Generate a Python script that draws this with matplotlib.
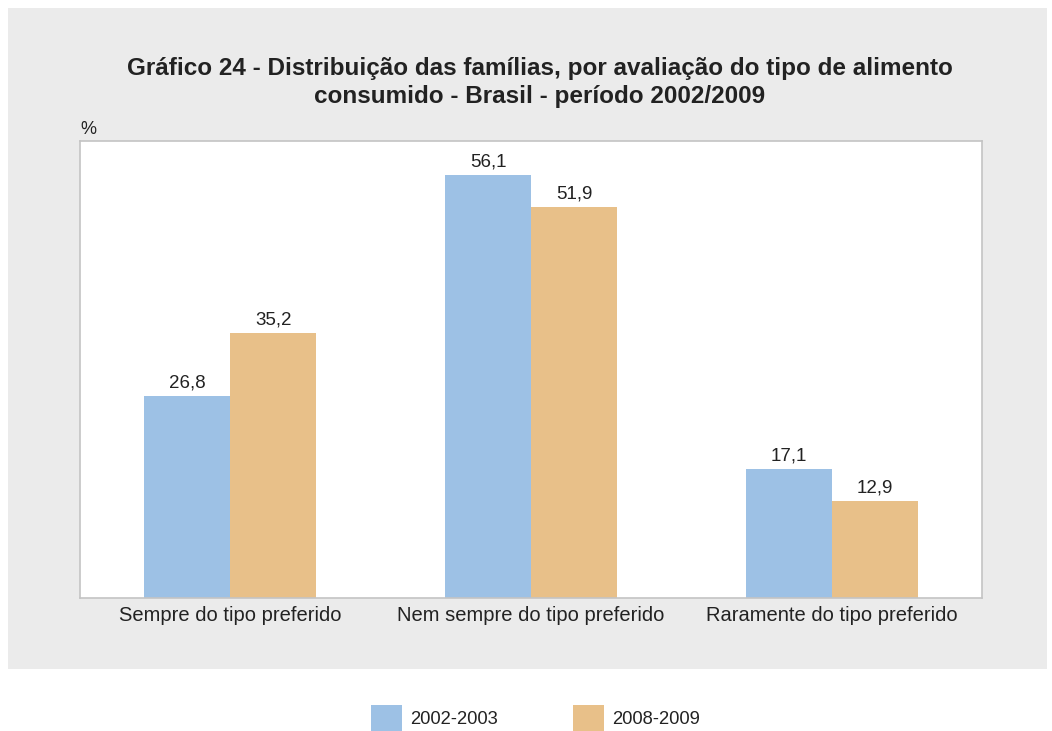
import numpy as np
import matplotlib.pyplot as plt
from matplotlib.patches import Rectangle

categories = ['Sempre do tipo preferido', 'Nem sempre do tipo preferido', 'Raramente do tipo preferido']
s2002 = [26.8, 56.1, 17.1]
s2008 = [35.2, 51.9, 12.9]
series_names = ['2002-2003', '2008-2009']

blue = '#9dc1e5'
orange = '#e8c089'
bg = '#ebebeb'

plt.rcParams['font.family'] = ['Liberation Sans', 'DejaVu Sans']

W, H = 1052, 731
fig = plt.figure(figsize=(W / 100, H / 100), dpi=100)
fig.patch.set_facecolor('white')

# gray panel behind everything
fig.patches.append(Rectangle((8 / W, 1 - 669 / H), (1047 - 8) / W, (669 - 8) / H,
                             transform=fig.transFigure, facecolor=bg, edgecolor='none', zorder=-10))

ax = fig.add_axes([80 / W, 1 - 598 / H, (982 - 80) / W, (598 - 141) / H])
ax.set_zorder(1)
ax.set_facecolor('white')

x = np.arange(len(categories))
w = 0.286
b1 = ax.bar(x - w / 2, s2002, w, color=blue, zorder=2)
b2 = ax.bar(x + w / 2, s2008, w, color=orange, zorder=2)

for bars, vals in [(b1, s2002), (b2, s2008)]:
    for r, v in zip(bars, vals):
        ax.text(r.get_x() + r.get_width() / 2, v + 0.6, f'{v:.1f}'.replace('.', ','),
                ha='center', va='bottom', fontsize=13.5, color='#222222')

ax.set_xlim(-0.5, 2.5)
ax.set_ylim(0, 60.6)
ax.set_yticks([])
ax.set_xticks(x)
ax.set_xticklabels(categories, fontsize=14.5, color='#222222')
ax.tick_params(axis='x', length=0, pad=6)
for s in ax.spines.values():
    s.set_color('#c4c4c4')
    s.set_linewidth(1.2)

fig.text(540 / W, 1 - 68 / H, 'Gráfico 24 - Distribuição das famílias, por avaliação do tipo de alimento',
         ha='center', va='center', fontsize=17.5, fontweight='bold', color='#222222')
fig.text(540 / W, 1 - 96 / H, 'consumido - Brasil - período 2002/2009',
         ha='center', va='center', fontsize=17.5, fontweight='bold', color='#222222')
fig.text(80 / W, 1 - 129 / H, '%', ha='left', va='center', fontsize=13, color='#222222')

# legend
for xl, c, name in [(371, blue, series_names[0]), (573, orange, series_names[1])]:
    fig.patches.append(Rectangle((xl / W, 1 - 731 / H), 31 / W, 26 / H,
                                 transform=fig.transFigure, facecolor=c, edgecolor='none'))
    fig.text((xl + 39) / W, 1 - 719 / H, name, ha='left', va='center', fontsize=13.2, color='#222222')

fig.savefig('out.png', dpi=100, facecolor='white')
